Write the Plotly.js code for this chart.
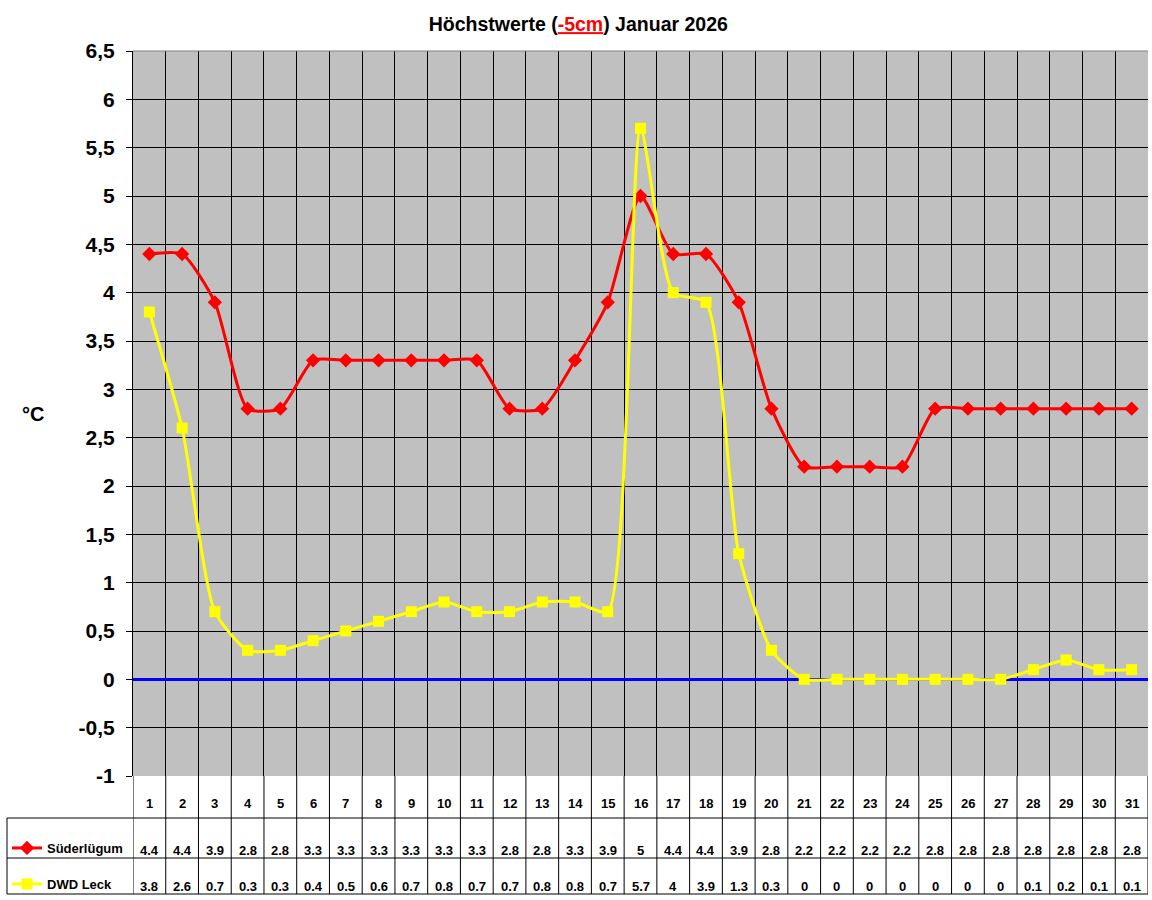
<!DOCTYPE html>
<html>
<head>
<meta charset="utf-8">
<script src="https://cdn.plot.ly/plotly-3.0.1.min.js"></script>
<style>
  body { margin: 0; background: #fff; }
  #chart { width: 1152px; height: 900px; }
</style>
</head>
<body>
<div id="chart"></div>
<script>
// Data
const days = [1,2,3,4,5,6,7,8,9,10,11,12,13,14,15,16,17,18,19,20,21,22,23,24,25,26,27,28,29,30,31];
const suederluegum = [4.4,4.4,3.9,2.8,2.8,3.3,3.3,3.3,3.3,3.3,3.3,2.8,2.8,3.3,3.9,5,4.4,4.4,3.9,2.8,2.2,2.2,2.2,2.2,2.8,2.8,2.8,2.8,2.8,2.8,2.8];
const dwdLeck = [3.8,2.6,0.7,0.3,0.3,0.4,0.5,0.6,0.7,0.8,0.7,0.7,0.8,0.8,0.7,5.7,4,3.9,1.3,0.3,0,0,0,0,0,0,0,0.1,0.2,0.1,0.1];
const yTickVals = [-1,-0.5,0,0.5,1,1.5,2,2.5,3,3.5,4,4.5,5,5.5,6,6.5];
const yTickText = ['-1','-0,5','0','0,5','1','1,5','2','2,5','3','3,5','4','4,5','5','5,5','6','6,5'];

const FONT = 'Liberation Sans, Arial, sans-serif';

const traces = [
  {
    x: days, y: suederluegum, name: 'Süderlügum', type: 'scatter', mode: 'lines+markers',
    line: { color: '#FF0000', width: 3, shape: 'spline', smoothing: 0.6 },
    marker: { color: '#FF0000', symbol: 'diamond', size: 11 },
    legend: 'legend'
  },
  {
    x: days, y: dwdLeck, name: 'DWD Leck', type: 'scatter', mode: 'lines+markers',
    line: { color: '#FFFF00', width: 3, shape: 'spline', smoothing: 0.6 },
    marker: { color: '#FFFF00', symbol: 'square', size: 11 },
    legend: 'legend2'
  }
];

// table under the plot (pixel rows converted to paper units)
const plotH = 725;
const py = px => -px / plotH;        // px below the plot bottom
const rowHead = py(27), row1 = py(74), row2 = py(110);

const annotations = [
  { text: '°C', xref: 'paper', yref: 'paper', x: -0.111, y: 0.5, yanchor: 'middle', showarrow: false,
    font: { family: FONT, size: 20, color: '#000', weight: 'bold' } }
];
const cellFont = { family: FONT, size: 13, color: '#000', weight: 'bold' };
days.forEach((d, i) => {
  annotations.push({ text: String(d), xref: 'x', yref: 'paper', x: d, y: rowHead, yanchor: 'middle', showarrow: false, font: cellFont });
  annotations.push({ text: String(suederluegum[i]), xref: 'x', yref: 'paper', x: d, y: row1, yanchor: 'middle', showarrow: false, font: cellFont });
  annotations.push({ text: String(dwdLeck[i]), xref: 'x', yref: 'paper', x: d, y: row2, yanchor: 'middle', showarrow: false, font: cellFont });
});

const shapes = [];
const tableBottom = py(118);
const leftEdge = (7 - 133) / 1015;
for (let k = 0; k <= days.length; k++) {
  shapes.push({ type: 'line', xref: 'x', yref: 'paper', x0: k + 0.5, x1: k + 0.5, y0: 0, y1: tableBottom,
    line: { color: '#000', width: 1 } });
}
[py(42), py(82), tableBottom].forEach(yy => {
  shapes.push({ type: 'line', xref: 'paper', yref: 'paper', x0: leftEdge, x1: 1, y0: yy, y1: yy,
    line: { color: '#000', width: 1 } });
});
shapes.push({ type: 'line', xref: 'paper', yref: 'paper', x0: leftEdge, x1: leftEdge, y0: py(42), y1: tableBottom,
  line: { color: '#000', width: 1 } });
// grey top border of plot area
shapes.push({ type: 'line', xref: 'paper', yref: 'paper', x0: 0, x1: 1, y0: 1, y1: 1,
  line: { color: '#808080', width: 1 } });

const legendStyle = {
  xref: 'paper', yref: 'paper', xanchor: 'left', yanchor: 'middle', x: leftEdge,
  bgcolor: 'rgba(0,0,0,0)', borderwidth: 0,
  font: { family: FONT, size: 13, color: '#000', weight: 'bold' }
};

const layout = {
  width: 1152, height: 900,
  margin: { l: 133, r: 4, t: 51, b: 124, autoexpand: false },
  paper_bgcolor: '#FFFFFF',
  plot_bgcolor: '#C0C0C0',
  font: { family: FONT, color: '#000' },
  title: {
    text: 'Höchstwerte (<span style="color:#FF0000;text-decoration:underline">-5cm</span>) Januar 2026',
    x: 0.502, xref: 'container', y: 0.973, yanchor: 'middle',
    font: { family: FONT, size: 19.5, color: '#000', weight: 'bold' }
  },
  xaxis: {
    range: [0.5, 31.5], tickmode: 'linear', tick0: 0.5, dtick: 1,
    showticklabels: false, ticks: '', showgrid: true, gridcolor: '#000', gridwidth: 1,
    zeroline: false, showline: false, fixedrange: true
  },
  yaxis: {
    range: [-1, 6.5], tickmode: 'array', tickvals: yTickVals, ticktext: yTickText,
    ticks: 'outside', ticklen: 6, tickcolor: '#000', tickwidth: 1, ticklabelstandoff: 7,
    tickfont: { family: FONT, size: 21, color: '#000', weight: 'bold' },
    showgrid: true, gridcolor: '#000', gridwidth: 1,
    zeroline: true, zerolinecolor: '#0000FF', zerolinewidth: 3,
    showline: true, linecolor: '#000', linewidth: 1, fixedrange: true
  },
  showlegend: true,
  legend: Object.assign({}, legendStyle, { y: py(72) }),
  legend2: Object.assign({}, legendStyle, { y: py(108) }),
  annotations: annotations,
  shapes: shapes
};

Plotly.newPlot('chart', traces, layout, { displayModeBar: false, staticPlot: true });
</script>
</body>
</html>
